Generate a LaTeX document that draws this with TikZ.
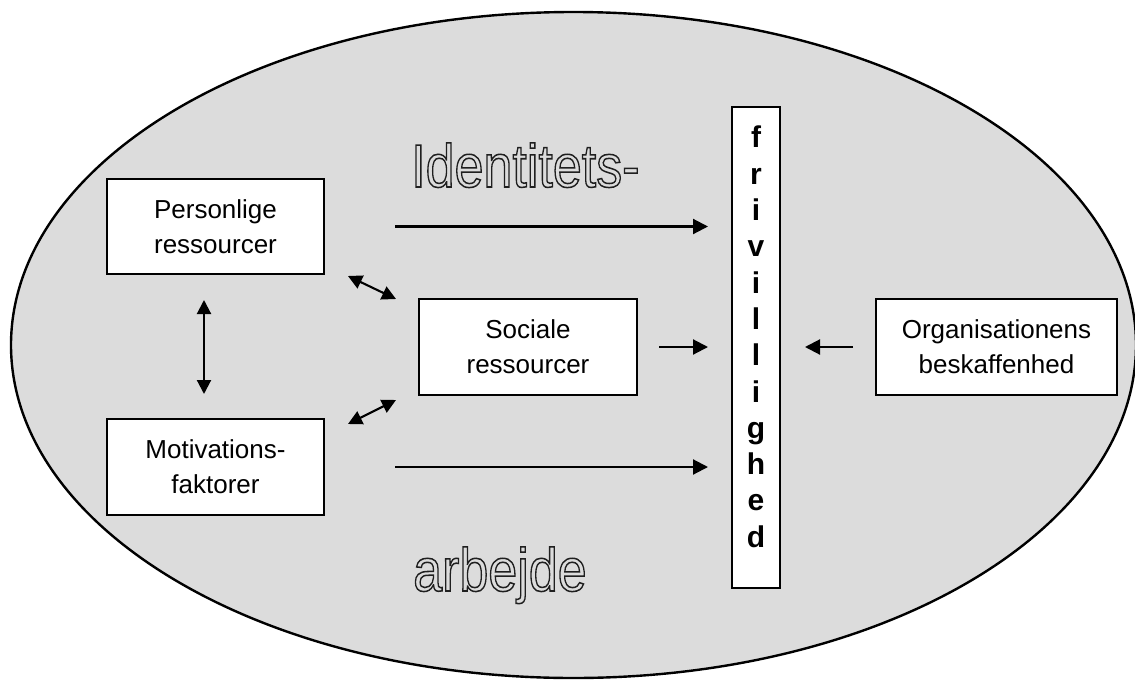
\documentclass[tikz,border=0pt]{standalone}
\usepackage{fontspec}
\setmainfont{Liberation Sans}
\usepackage{graphicx}
\usetikzlibrary{arrows.meta,calc}
\definecolor{bggray}{RGB}{220,220,220}
\tikzset{
  box/.style={draw=black, fill=white, line width=2.3pt, rectangle, inner sep=0pt,
    outer sep=0pt, align=center, font=\fontsize{26}{35}\selectfont},
  arr/.style={line width=2.1pt, -{Triangle[length=15pt,width=15pt]}},
  darr/.style={line width=2.1pt,
    {Triangle[length=14pt,width=14pt]}-{Triangle[length=14pt,width=14pt]}},
  hollow/.style={inner sep=0pt, font=\fontsize{52}{60}\selectfont}
}
% outlined (stroked, unfilled) lettering via the PDF text rendering mode
\newcommand\hollowtext[1]{\scalebox{1}[1.17]{\special{pdf:literal direct 1 Tr 1.3 w 0.12 G}#1\special{pdf:literal direct 0 Tr}}}
\begin{document}
\begin{tikzpicture}[x=1pt,y=-1pt]
\useasboundingbox (0,0) rectangle (1135,680);

% surrounding field
\draw[line width=2.4pt, fill=bggray] (573.5,345) ellipse [x radius=562.5pt, y radius=333pt];

% boxes
\node[box, minimum width=217pt, minimum height=95pt] (pers) at (215.5,226.5) {Personlige\\ressourcer};
\node[box, minimum width=217pt, minimum height=96pt] (motiv) at (215.5,467) {Motivations-\\faktorer};
\node[box, minimum width=218pt, minimum height=96pt] (soc) at (528,347) {Sociale\\ressourcer};
\node[box, minimum width=241pt, minimum height=96pt] (org) at (996.5,347) {Organisationens\\beskaffenhed};
\node[box, minimum width=48pt, minimum height=481pt] (friv) at (756,347.5) {};
\node[anchor=north, inner sep=0pt, align=center, font=\bfseries\fontsize{30}{36.3}\selectfont]
  (frivtxt) at (756,126) {f\\r\\i\\v\\i\\l\\l\\i\\g\\h\\e\\d};

% outlined words
\node[hollow, anchor=base west] (ident) at (411,187) {\hollowtext{Identitets-}};
\node[hollow, anchor=base west] (arb) at (413,591) {\hollowtext{arbejde}};

% arrows into the central bar
\draw[arr, shorten <=71pt, shorten >=24pt] (pers.east) -- (pers.east -| friv.west);
\draw[arr, shorten <=71pt, shorten >=24pt] (motiv.east) -- (motiv.east -| friv.west);
\draw[arr, shorten <=22pt, shorten >=24pt] (soc.east) -- (friv.west |- soc.east);
\draw[arr, shorten <=23pt, shorten >=25pt] (org.west) -- (friv.east |- org.west);

% mutual influences
\draw[darr, shorten <=26pt, shorten >=25pt] ([xshift=-11.5pt]pers.south) -- ([xshift=-11.5pt]motiv.north);
\coordinate (pu) at ($(pers.south east)+(24,2)$);
\coordinate (su) at ($(soc.north west)+(-23,0)$);
\draw[darr] (pu) -- (su);
\coordinate (pl) at ($(motiv.north east)+(24,5)$);
\coordinate (sl) at ($(soc.south west)+(-23,5)$);
\draw[darr] (pl) -- (sl);
\end{tikzpicture}
\end{document}
